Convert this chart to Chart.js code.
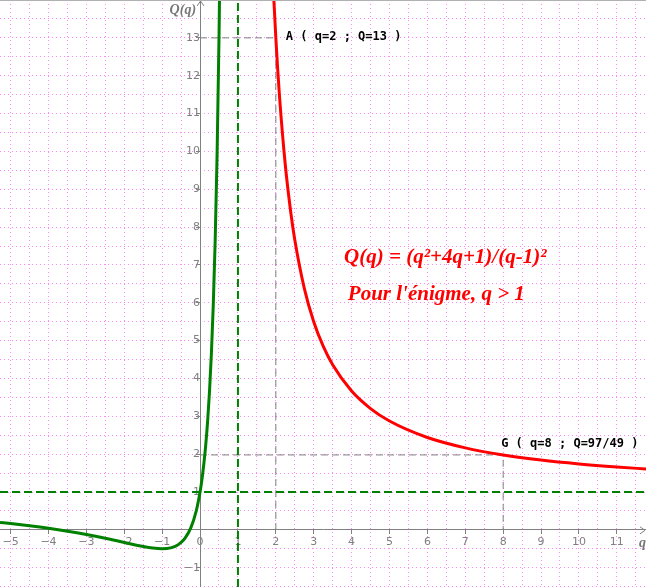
<!DOCTYPE html>
<html>
<head>
<meta charset="utf-8">
<script src="https://cdn.jsdelivr.net/npm/chart.js@4/dist/chart.umd.min.js"></script>
<style>
  html, body { margin: 0; padding: 0; background: #fff; }
  canvas { display: block; }
</style>
</head>
<body>
<canvas id="qChart" width="646" height="587"></canvas>
<script>
// Q(q) = (q²+4q+1)/(q-1)²

// left branch (q < 1), green
const qGreen = [-5.28, -5, -4.5, -4, -3.5, -3, -2.5, -2, -1.5, -1.25, -1, -0.75, -0.6, -0.5, -0.4, -0.25, -0.1, 0, 0.05, 0.1, 0.15, 0.2, 0.25, 0.3, 0.35, 0.4, 0.45, 0.5, 0.52];
const QGreen = [0.197, 0.167, 0.107, 0.04, -0.037, -0.125, -0.224, -0.333, -0.44, -0.481, -0.5, -0.469, -0.406, -0.333, -0.224, 0.04, 0.504, 1, 1.332, 1.741, 2.246, 2.875, 3.667, 4.673, 5.97, 7.667, 9.926, 13, 14.54];

// right branch (q > 1), red
const qRed = [1.94, 2, 2.05, 2.1, 2.25, 2.4, 2.5, 2.75, 3, 3.25, 3.5, 4, 4.5, 5, 6, 7, 8, 9, 10, 11, 11.8];
const QRed = [14.17, 13, 12.157, 11.41, 9.64, 8.347, 7.667, 6.388, 5.5, 4.852, 4.36, 3.667, 3.204, 2.875, 2.44, 2.167, 1.98, 1.844, 1.741, 1.66, 1.607];

// asymptotes q = 1 and Q = 1
const asymQ = 1;
const asymValue = 1;

// marked points
const pointA = { q: 2, Q: 13, label: "A ( q=2 ; Q=13 )" };
const pointG = { q: 8, Q: 97 / 49, label: "G ( q=8 ; Q=97/49 )" };

// axis range
const xMin = -5.28, xMax = 11.77;
const yMin = -1.51, yMax = 14.0;

const formulaText = "Q(q) = (q²+4q+1)/(q-1)²";
const noteText = "Pour l'énigme, q > 1";

const toPoints = (xs, ys) => xs.map((x, i) => ({ x: x, y: ys[i] }));

const GRID = "#ff88ff";
const AXIS = "#808080";

// draw texts, arrows
const annotations = {
  id: "annotations",
  afterDatasetsDraw(chart) {
    const { ctx, scales: { x, y } } = chart;
    const x0 = x.getPixelForValue(0);
    const y0 = y.getPixelForValue(0);
    ctx.save();

    // top frame line
    ctx.fillStyle = "#b0b0b0";
    ctx.fillRect(0, 0, chart.width, 1);

    // arrow heads
    ctx.strokeStyle = AXIS;
    ctx.lineWidth = 1;
    ctx.beginPath();
    ctx.moveTo(x0 - 3, 6); ctx.lineTo(x0 + 0.5, 1); ctx.lineTo(x0 + 4, 6);
    ctx.moveTo(chart.width - 6, y0 - 3); ctx.lineTo(chart.width - 1, y0 + 0.5); ctx.lineTo(chart.width - 6, y0 + 4);
    ctx.stroke();

    // axis names
    ctx.fillStyle = "#777";
    ctx.font = "italic bold 14px 'Liberation Serif'";
    ctx.textAlign = "right";
    ctx.textBaseline = "alphabetic";
    ctx.fillText("Q(q)", x0 - 4, 14);
    ctx.textAlign = "left";
    ctx.fillText("q", chart.width - 7, y0 + 17);

    // point labels
    ctx.fillStyle = "#000";
    ctx.font = "bold 12px 'DejaVu Sans Mono'";
    ctx.textBaseline = "middle";
    ctx.fillText(pointA.label, x.getPixelForValue(pointA.q) + 10, y.getPixelForValue(pointA.Q) - 1);
    ctx.textBaseline = "bottom";
    ctx.fillText(pointG.label, x.getPixelForValue(pointG.q) - 2, y.getPixelForValue(pointG.Q) - 5);

    // formula
    ctx.fillStyle = "#ff0000";
    ctx.font = "italic bold 21px 'Liberation Serif'";
    ctx.textBaseline = "middle";
    ctx.fillText(formulaText, x.getPixelForValue(3.8), y.getPixelForValue(7.19));
    ctx.fillText(noteText, x.getPixelForValue(3.9), y.getPixelForValue(6.21));
    ctx.restore();
  }
};

const noPadding = (s) => {
  s.paddingLeft = 0; s.paddingRight = 0; s.paddingTop = 0; s.paddingBottom = 0;
};

const ctx = document.getElementById("qChart").getContext("2d");
const chart = new Chart(ctx, {
  type: "scatter",
  data: {
    datasets: [
      {
        label: "q > 1",
        data: toPoints(qRed, QRed),
        showLine: true,
        borderColor: "#ff0000",
        borderWidth: 3,
        pointRadius: 0,
        cubicInterpolationMode: "monotone"
      },
      {
        label: "q < 1",
        data: toPoints(qGreen, QGreen),
        showLine: true,
        borderColor: "#008000",
        borderWidth: 3,
        pointRadius: 0,
        cubicInterpolationMode: "monotone"
      },
      {
        label: "q = 1",
        data: [{ x: asymQ, y: yMin }, { x: asymQ, y: yMax }],
        showLine: true,
        borderColor: "#008000",
        borderWidth: 2,
        borderDash: [8, 4],
        pointRadius: 0
      },
      {
        label: "Q = 1",
        data: [{ x: xMin, y: asymValue }, { x: xMax, y: asymValue }],
        showLine: true,
        borderColor: "#008000",
        borderWidth: 2,
        borderDash: [8, 4],
        pointRadius: 0
      },
      {
        label: "A",
        data: [{ x: 0, y: pointA.Q }, { x: pointA.q, y: pointA.Q }, { x: pointA.q, y: 0 }],
        showLine: true,
        borderColor: AXIS,
        borderWidth: 1,
        borderDash: [7, 4],
        pointRadius: 0
      },
      {
        label: "G",
        data: [{ x: 0, y: pointG.Q }, { x: pointG.q, y: pointG.Q }, { x: pointG.q, y: 0 }],
        showLine: true,
        borderColor: AXIS,
        borderWidth: 1,
        borderDash: [7, 4],
        pointRadius: 0
      }
    ]
  },
  options: {
    responsive: false,
    animation: false,
    layout: { padding: 0, autoPadding: false },
    plugins: {
      legend: { display: false },
      tooltip: { enabled: false }
    },
    scales: {
      x: {
        type: "linear",
        min: xMin,
        max: xMax,
        position: { y: 0 },
        afterFit: noPadding,
        grid: {
          color: GRID,
          lineWidth: 1,
          tickLength: 4,
          tickColor: c => Number.isInteger(c.tick.value) ? AXIS : "rgba(0,0,0,0)"
        },
        border: { display: true, color: AXIS, width: 1, dash: [1, 3] },
        ticks: {
          stepSize: 0.5,
          includeBounds: false,
          autoSkip: false,
          maxRotation: 0,
          padding: 2,
          color: AXIS,
          font: { family: "DejaVu Sans", size: 11 },
          callback: v => Number.isInteger(v) ? String(v).replace("-", "−") : ""
        }
      },
      y: {
        type: "linear",
        min: yMin,
        max: yMax,
        position: { x: 0 },
        afterFit: noPadding,
        grid: {
          color: GRID,
          lineWidth: 1,
          tickLength: 4,
          tickColor: c => Number.isInteger(c.tick.value) ? AXIS : "rgba(0,0,0,0)"
        },
        border: { display: true, color: AXIS, width: 1, dash: [1, 3] },
        ticks: {
          stepSize: 0.5,
          includeBounds: false,
          autoSkip: false,
          padding: 1,
          color: AXIS,
          font: { family: "DejaVu Sans", size: 11 },
          callback: v => (Number.isInteger(v) && v !== 0 && v < 14) ? String(v).replace("-", "−") : ""
        }
      }
    }
  },
  plugins: [annotations]
});
</script>
</body>
</html>
